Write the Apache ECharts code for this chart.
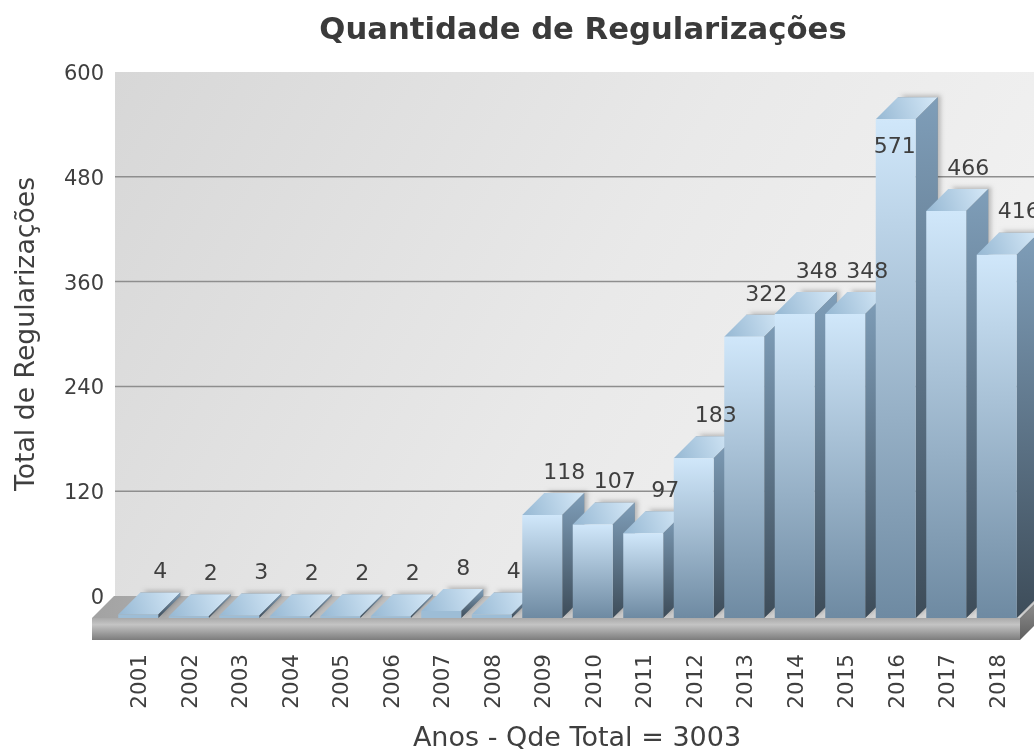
<!DOCTYPE html>
<html>
	<head>
		<meta charset="utf-8" />
		<title>Quantidade de Regularizações</title>
		<script src="https://cdn.jsdelivr.net/npm/echarts@6/dist/echarts.min.js" type="text/javascript" charset="utf-8"></script>
		<style type="text/css">
			html, body { margin: 0; padding: 0; background: #fff; }
			#chart { width: 1034px; height: 751px; }
		</style>
	</head>
	<body>
		<div id="chart"></div>
		<script type="text/javascript">
			var years = ["2001","2002","2003","2004","2005","2006","2007","2008","2009","2010","2011","2012","2013","2014","2015","2016","2017","2018"];
			var totals = [4,2,3,2,2,2,8,4,118,107,97,183,322,348,348,571,466,416];
			var gridTicks = [120,240,360,480];

			var DEPTH = 22;
			var HALF_BAR = 20;
			var FLOOR_H = 22;
			var FONT = '"DejaVu Sans", Verdana, sans-serif';
			var TEXT = '#3f3f3f';

			function vgrad(a, b) {
				return {type:'linear', x:0, y:0, x2:0, y2:1, colorStops:[{offset:0,color:a},{offset:1,color:b}]};
			}
			function poly(points, style) {
				return {type:'polygon', shape:{points:points}, style:style};
			}

			// back wall, grid lines and the floor slab
			function renderBackdrop(params, api) {
				var cs = params.coordSys;
				var left = cs.x + 2, right = 1060;
				var wallBottom = cs.y + cs.height;
				var floorL = cs.x - 21, floorR = cs.x + cs.width - 2;
				var floorY = wallBottom + DEPTH;
				var children = [];
				children.push({type:'rect', shape:{x:left, y:cs.y, width:right-left, height:cs.height},
					style:{fill:{type:'linear', x:0, y:0, x2:1, y2:1, colorStops:[
						{offset:0,color:'#d7d7d7'},{offset:0.5,color:'#e9e9e9'},{offset:1,color:'#f5f5f5'}]}}});
				for (var i = 0; i < gridTicks.length; i++) {
					var y = api.coord([0, gridTicks[i]])[1];
					children.push({type:'line', shape:{x1:left, y1:y, x2:right, y2:y},
						style:{stroke:'#8e8e8e', lineWidth:1.5}});
				}
				children.push(poly([[floorL,floorY],[floorL+DEPTH,wallBottom],[floorR+DEPTH,wallBottom],[floorR,floorY]],
					{fill:{type:'linear', x:0, y:0, x2:1, y2:0, colorStops:[
						{offset:0,color:'#a2a2a2'},{offset:0.2,color:'#bcbcbc'},{offset:1,color:'#dcdcdc'}]}}));
				children.push({type:'rect', shape:{x:floorL, y:floorY, width:floorR-floorL, height:FLOOR_H},
					style:{fill:{type:'linear', x:0, y:0, x2:0, y2:1, colorStops:[
						{offset:0,color:'#a9a9a9'},{offset:0.3,color:'#c4c4c4'},{offset:1,color:'#7c7c7c'}]}}});
				children.push(poly([[floorR,floorY],[floorR+DEPTH,wallBottom],[floorR+DEPTH,wallBottom+FLOOR_H],[floorR,floorY+FLOOR_H]],
					{fill:vgrad('#989898','#5e5e5e')}));
				return {type:'group', children:children};
			}

			function renderBar(params, api) {
				var p = api.coord([api.value(0), api.value(1)]);
				var base = api.coord([api.value(0), 0])[1] + DEPTH;
				var x0 = p[0] - HALF_BAR, x1 = p[0] + HALF_BAR;
				var top = p[1] + DEPTH;
				// almost flat bars would show a white line with the full gradient
				var frontFill = base - top < 10 ? '#9dbdd6' : vgrad('#d0e7fa','#6e8aa2');
				return {type:'group', children:[
					// soft shadow on the wall
					poly([[x0+DEPTH,top-DEPTH],[x1+DEPTH,top-DEPTH],[x1+DEPTH,base-DEPTH],[x1,base],[x1,top]],
						{fill:'#8a8a8a', shadowBlur:4, shadowOffsetX:3, shadowOffsetY:-2, shadowColor:'rgba(0,0,0,0.22)'}),
					poly([[x0,top],[x0+DEPTH,top-DEPTH],[x1+DEPTH,top-DEPTH],[x1,top]],
						{fill:{type:'linear', x:0, y:1, x2:1, y2:0, colorStops:[{offset:0,color:'#96b8d3'},{offset:1,color:'#d6e9f8'}]}}),
					poly([[x1,top],[x1+DEPTH,top-DEPTH],[x1+DEPTH,base-DEPTH],[x1,base]],
						{fill:vgrad('#7f9eb9','#3d4c59')}),
					{type:'rect', shape:{x:x0, y:top, width:x1-x0, height:base-top},
						style:{fill:frontFill}}
				]};
			}

			var maxTotal = Math.max.apply(null, totals);

			function renderLabel(params, api) {
				var v = api.value(1);
				var p = api.coord([api.value(0), v]);
				// the tallest bar has no room above, its label sits on the bar
				var inside = v === maxTotal;
				return {type:'text', x: inside ? p[0] - 1 : p[0] + DEPTH, y: inside ? p[1] + 50 : p[1] - 20,
					style:{text:String(v), fill:TEXT, font:'22px ' + FONT, align:'center', verticalAlign:'middle'}};
			}

			var barData = [];
			for (var i = 0; i < totals.length; i++) {
				barData.push([i, totals[i]]);
			}

			var chart = echarts.init(document.getElementById("chart"));
			chart.setOption({
				animation: false,
				backgroundColor: '#fff',
				title: {
					text: 'Quantidade de Regularizações',
					left: 578,
					top: 11,
					textAlign: 'center',
					textStyle: {color:'#3a3a3a', fontFamily:FONT, fontWeight:'bold', fontSize:30.7}
				},
				grid: {left:113, top:72, width:909, height:524, outerBoundsMode:'none'},
				xAxis: {
					type: 'category',
					data: years,
					axisLine: {show:false},
					axisTick: {show:false},
					axisLabel: {
						rotate:90, margin:58, interval:0,
						formatter:'{v|{value}}',
						rich:{v:{color:TEXT, fontFamily:FONT, fontSize:21.5, padding:[5,0,0,0]}}
					},
					name: 'Anos - Qde Total = 3003',
					nameLocation: 'middle',
					nameGap: 143,
					nameMoveOverlap: false,
					nameTextStyle: {color:TEXT, fontFamily:FONT, fontSize:27, verticalAlign:'middle', padding:[0,0,0,19]}
				},
				yAxis: {
					type: 'value',
					min: 0,
					max: 600,
					interval: 120,
					axisLine: {show:false},
					axisTick: {show:false},
					splitLine: {show:false},
					axisLabel: {
						margin:9,
						formatter:'{v|{value}}',
						rich:{v:{color:TEXT, fontFamily:FONT, fontSize:21, padding:[5,0,0,0]}}
					},
					name: 'Total de Regularizações',
					nameLocation: 'middle',
					nameGap: 86,
					nameMoveOverlap: false,
					nameRotate: 90,
					nameTextStyle: {color:TEXT, fontFamily:FONT, fontSize:26.7, verticalAlign:'middle'}
				},
				series: [
					{type:'custom', z:1, silent:true, renderItem:renderBackdrop, data:[[0,0]], encode:{x:0,y:1}},
					{type:'custom', z:2, silent:true, renderItem:renderBar, data:barData, encode:{x:0,y:1}},
					{type:'custom', z:3, silent:true, renderItem:renderLabel, data:barData, encode:{x:0,y:1}}
				]
			});
		</script>
	</body>
</html>
